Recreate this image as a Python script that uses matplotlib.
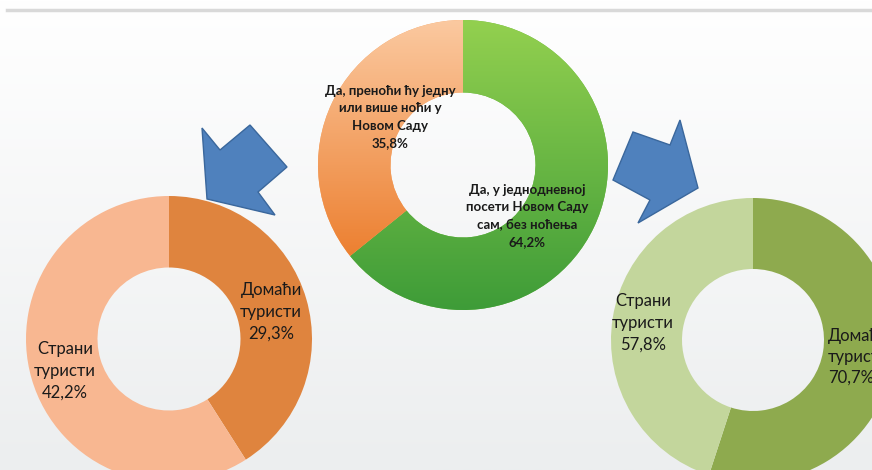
import numpy as np
import matplotlib
matplotlib.use("Agg")
import matplotlib.pyplot as plt
from matplotlib.colors import LinearSegmentedColormap
from matplotlib.patches import Polygon

plt.rcParams['font.family'] = ['Lato', 'Noto Sans', 'DejaVu Sans']

W, H = 872, 470

# top donut: stayed overnight vs day visit
top_labels = ['Да, у једнодневној\nпосети Новом Саду\nсам, без ноћења\n64,2%',
              'Да, преноћи ћу једну\nили више ноћи у\nНовом Саду\n35,8%']
top_values = [64.2, 35.8]

# bottom left donut (overnight guests)
left_labels = ['Домаћи\nтуристи\n29,3%', 'Страни\nтуристи\n42,2%']
left_values = [29.3, 42.2]

# bottom right donut (day visitors)
right_labels = ['Домаћи\nтуристи\n70,7%', 'Страни\nтуристи\n57,8%']
right_values = [70.7, 57.8]


def yy(y):
    # picture rows -> axes y
    return H - y


def donut(ax, values, cx, cy, r, colors):
    wedges, _ = ax.pie(values, center=(cx, yy(cy)), radius=r, startangle=90,
                       counterclock=False, colors=colors,
                       wedgeprops=dict(width=r * 0.5, linewidth=0))
    return wedges


def gradient(ax, wedge, cx, cy, r, c_top, c_bot):
    cmap = LinearSegmentedColormap.from_list('g', [c_bot, c_top])
    grad = np.linspace(0, 1, 256).reshape(-1, 1)
    im = ax.imshow(grad, extent=[cx - r, cx + r, yy(cy) - r, yy(cy) + r],
                   origin='lower', cmap=cmap, aspect='auto', zorder=2)
    im.set_clip_path(wedge)


def main():
    fig = plt.figure(figsize=(W / 100, H / 100), dpi=100)
    ax = fig.add_axes([0, 0, 1, 1])

    # background
    bg = LinearSegmentedColormap.from_list('bg', ['#eceeef', '#ffffff'])
    ax.imshow(np.linspace(0, 1, 256).reshape(-1, 1), extent=[0, W, 0, H],
              origin='lower', cmap=bg, aspect='auto', zorder=0)
    ax.plot([7, W], [yy(10), yy(10)], color='#d9d9d9', lw=2.5, zorder=1)

    # top donut
    tw = donut(ax, top_values, 463, 165, 145, ['#6cb843', '#f5a462'])
    gradient(ax, tw[0], 463, 165, 145, '#93d04f', '#3e9c38')
    gradient(ax, tw[1], 463, 165, 145, '#fbc9a0', '#e96f17')
    ax.text(527, yy(216), top_labels[0], ha='center', va='center',
            fontsize=9.5, fontweight='bold', color='#1a1a1a', linespacing=1.55, zorder=4)
    ax.text(390, yy(117), top_labels[1], ha='center', va='center',
            fontsize=9.5, fontweight='bold', color='#1a1a1a', linespacing=1.55, zorder=4)

    # bottom left donut
    donut(ax, left_values, 169, 339, 143, ['#df843e', '#f8b791'])
    ax.text(271, yy(312), left_labels[0], ha='center', va='center',
            fontsize=12, color='#1a1a1a', linespacing=1.45, zorder=4)
    ax.text(65, yy(371), left_labels[1], ha='center', va='center',
            fontsize=12, color='#1a1a1a', linespacing=1.45, zorder=4)

    # bottom right donut
    donut(ax, right_values, 753, 340, 142, ['#8eaa4e', '#c3d69c'])
    ax.text(828, yy(357), right_labels[0], ha='left', va='center',
            fontsize=12, color='#1a1a1a', linespacing=1.35, zorder=4)
    ax.text(643, yy(323), right_labels[1], ha='center', va='center',
            fontsize=12, color='#1a1a1a', linespacing=1.45, zorder=4)

    # arrows
    left_arrow = [(202, 128), (220, 150), (250, 125), (287, 167),
                  (258, 192), (275, 215), (207, 199)]
    right_arrow = [(633, 132), (670, 145), (680, 120), (698, 188),
                   (638, 223), (650, 200), (613, 180)]
    for pts in (left_arrow, right_arrow):
        ax.add_patch(Polygon([(x, yy(y)) for x, y in pts], closed=True,
                             facecolor='#4f81bd', edgecolor='#3a679c',
                             lw=1, zorder=5))

    ax.set_xlim(0, W)
    ax.set_ylim(0, H)
    ax.set_aspect('auto')
    ax.axis('off')
    fig.savefig('out.png', dpi=100)


if __name__ == "__main__":
    main()
